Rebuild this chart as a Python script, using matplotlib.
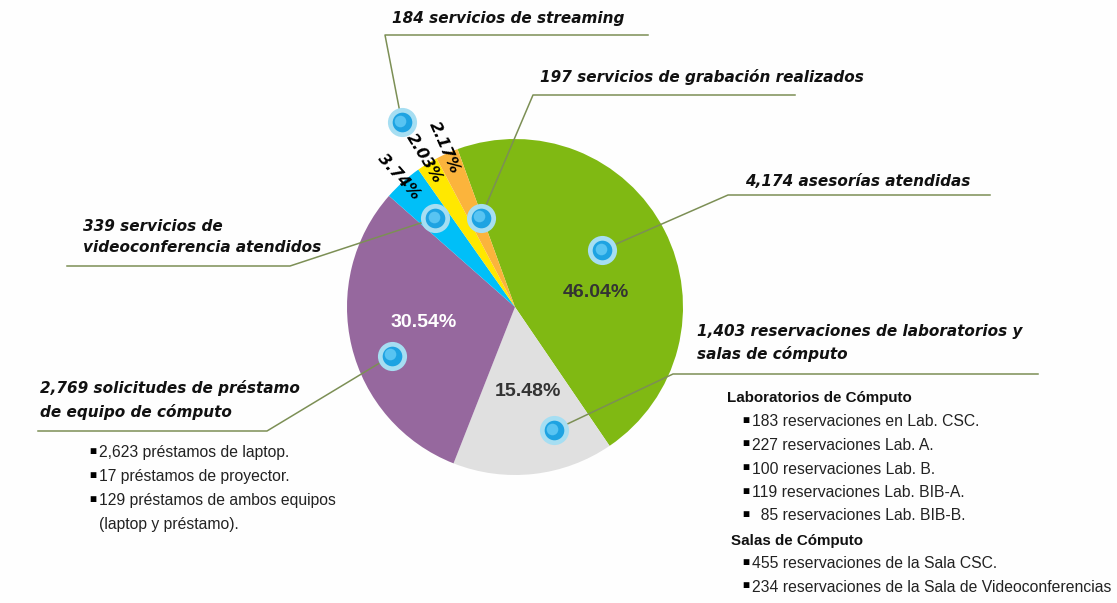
import numpy as np
import matplotlib
matplotlib.use("Agg")
import matplotlib.pyplot as plt

# service counts, clockwise from the top
services = [
    "4,174 asesorías atendidas",
    "1,403 reservaciones de laboratorios y\nsalas de cómputo",
    "2,769 solicitudes de préstamo\nde equipo de cómputo",
    "339 servicios de\nvideoconferencia atendidos",
    "184 servicios de streaming",
    "197 servicios de grabación realizados",
]
counts = [4174, 1403, 2769, 339, 184, 197]
colors = ["#80b913", "#e0e0e0", "#96689e", "#00bff8", "#ffe800", "#fbb43c"]

lab_items = [
    "183 reservaciones en Lab. CSC.",
    "227 reservaciones Lab. A.",
    "100 reservaciones Lab. B.",
    "119 reservaciones Lab. BIB-A.",
    "  85 reservaciones Lab. BIB-B.",
]
sala_items = [
    "455 reservaciones de la Sala CSC.",
    "234 reservaciones de la Sala de Videoconferencias",
]
loan_items = [
    "2,623 préstamos de laptop.",
    "17 préstamos de proyector.",
    "129 préstamos de ambos equipos\n(laptop y préstamo).",
]

W, H = 1117, 603
CX, CY, R = 515, 307, 168
LINE = "#7c8f55"
LABEL_FONT = dict(family="DejaVu Sans", fontweight="bold", fontstyle="italic")
BODY_FONT = ["Liberation Sans", "DejaVu Sans"]


def Y(y):
    return H - y


fig = plt.figure(figsize=(W / 100, H / 100), dpi=100, facecolor="#fefefe")
ax = fig.add_axes([0, 0, 1, 1])
ax.set_facecolor("#fefefe")

wedges, _ = ax.pie(counts, colors=colors, startangle=110, counterclock=False,
                   center=(CX, Y(CY)), radius=R,
                   wedgeprops=dict(linewidth=0))
ax.set_xlim(0, W)
ax.set_ylim(0, H)
ax.set_aspect("equal")
ax.axis("off")

total = sum(counts)
pcts = [100 * c / total for c in counts]
mids = [np.deg2rad((w.theta1 + w.theta2) / 2) for w in wedges]


def on_pie(i, frac, shift=0.0):
    a = mids[i] + np.deg2rad(shift)
    return CX + frac * R * np.cos(a), Y(CY) + frac * R * np.sin(a)


# percentage labels inside the big slices
inside = {0: (0.49, -17, "#333333"), 2: (0.55, -4, "white"), 1: (0.51, 2, "#333333")}
for i, (frac, shift, col) in inside.items():
    x, y = on_pie(i, frac, shift)
    ax.text(x, y, f"{pcts[i]:.2f}%", ha="center", va="center", fontsize=14,
            fontweight="bold", color=col, family=BODY_FONT)

# small slices get rotated labels just outside the rim
for i in (3, 4, 5):
    x, y = on_pie(i, 1.04)
    ang = np.rad2deg(mids[i]) - 180
    ax.text(x, y, f"{pcts[i]:.2f}%", ha="center", va="center", fontsize=11.5,
            rotation=ang, rotation_mode="anchor", color="black", **LABEL_FONT)

# markers: (fraction of radius, angular shift) per slice
marker_pos = [(0.62, 6), (0.77, 11), (0.79, 8), (0.71, 0), (1.29, 0), (0.57, -3)]
pts = [on_pie(i, f, s) for i, (f, s) in enumerate(marker_pos)]
for x, y in pts:
    ax.scatter(x, y, s=440, color="#a6def2", zorder=5, linewidths=0)
    ax.scatter(x, y, s=200, color="#1ea3e2", zorder=6, linewidths=0)
    ax.scatter(x - 1.5, y + 1.5, s=70, color="#58c4f2", zorder=7, linewidths=0)

# leader lines: marker -> elbow -> end of the underline
elbows = [(728, 195, 990), (673, 374, 1038), (267, 431, 38),
          (290, 266, 67), (385, 35, 648), (533, 95, 795)]
for (mx, my), (ex, ey, end) in zip(pts, elbows):
    ax.plot([mx, ex, end], [my, Y(ey), Y(ey)], color=LINE, lw=1.1,
            zorder=4, solid_joinstyle="round")

# label texts above the underlines
label_pos = [(745, 182), (697, 343), (40, 400), (83, 237), (392, 18), (540, 77)]
for txt, (x, y) in zip(services, label_pos):
    ax.text(x, Y(y), txt, ha="left", va="center", fontsize=11,
            linespacing=1.55, color="#111111", **LABEL_FONT)


# detail lists
def bullet_list(x, y, items, step=23.5):
    for it in items:
        for j, ln in enumerate(it.split("\n")):
            if j == 0:
                ax.text(x, Y(y) + 1, "■", ha="left", va="center", fontsize=8.5,
                        family=BODY_FONT, color="black")
            ax.text(x + 10, Y(y), ln, ha="left", va="center", fontsize=11.3,
                    family=BODY_FONT, color="#222222")
            y += step
    return y


ax.text(727, Y(398), "Laboratorios de Cómputo", ha="left", va="center",
        fontsize=10.9, fontweight="bold", family=BODY_FONT, color="#111111")
bullet_list(742, 422, lab_items)
ax.text(731, Y(541), "Salas de Cómputo", ha="left", va="center",
        fontsize=10.9, fontweight="bold", family=BODY_FONT, color="#111111")
bullet_list(742, 564, sala_items)
bullet_list(89, 453, loan_items, step=24)

fig.savefig("out.png", dpi=100, facecolor=fig.get_facecolor())
